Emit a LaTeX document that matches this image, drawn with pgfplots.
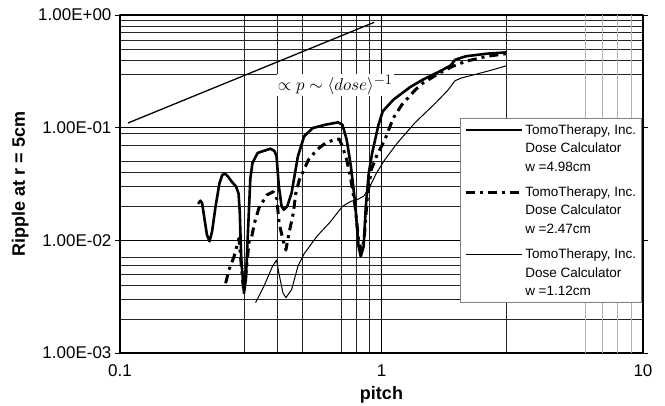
\documentclass[border=0pt]{standalone}
\usepackage{pgfplots}
\pgfplotsset{compat=1.18}
\usepackage[no-math]{fontspec}
\setmainfont{Liberation Sans}
\begin{document}
\begin{tikzpicture}
\path[use as bounding box] (-120pt,-53pt) rectangle (545pt,353pt);
\begin{axis}[
  at={(0pt,0pt)}, anchor=south west,
  scale only axis, width=523pt, height=338pt,
  xmode=log, ymode=log,
  xmin=0.1, xmax=10, ymin=0.001, ymax=1,
  /pgf/number format/assume math mode=true,
  xtick={0.1,1,10}, xticklabels={0.1,1,10},
  ytick={0.001,0.01,0.1,1},
  yticklabels={1.00E-03,1.00E-02,1.00E-01,1.00E+00},
  minor xtick={0.3,0.4,0.5,0.7,0.8,0.9,3},
  minor ytick={0.002,0.003,0.004,0.005,0.006,0.007,0.02,0.03,0.04,0.05,0.07,0.09,0.3,0.4,0.5,0.6,0.7,0.8,0.9},
  extra x ticks={6,7,8,9}, extra x tick labels={},
  extra x tick style={major grid style={gray!60, line width=0.9pt}, major tick length=0pt},
  grid=both,
  major grid style={black, line width=0.6pt},
  minor grid style={black!85, line width=0.6pt},
  tick align=outside,
  major tick length=5pt, minor tick length=0pt,
  xtick style={draw=none},
  tick style={black, line width=0.6pt},
  axis line style={black, line width=1.5pt},
  ticklabel style={font=\fontsize{17}{20}\selectfont},
  xticklabel style={yshift=-3pt},
  xlabel={\textbf{pitch}},
  ylabel={\textbf{Ripple at r = 5cm}},
  label style={font=\fontsize{18}{21}\selectfont},
  xlabel style={at={(axis description cs:0.5,-0.124)}, anchor=center},
  ylabel style={at={(axis description cs:-0.191,0.5)}, anchor=center},
  legend style={at={(0.998,0.694)}, anchor=north east, draw=gray, line width=0.8pt,
    fill=white, font=\fontsize{13.5}{18.5}\selectfont,
    cells={anchor=west, align=left}, row sep=10pt, inner sep=3.5pt},
  legend image code/.code={\draw[#1] (0pt,18.5pt) -- (56pt,18.5pt);},
  line join=round,
]
% reference slope line
\addplot[black, line width=1.3pt, forget plot] coordinates {(0.1073,0.110) (0.938,0.861)};

% w = 4.98 cm
\addplot[black, line width=2.6pt] coordinates {
(0.199,0.0211) (0.203,0.0225) (0.206,0.0215) (0.210,0.0160) (0.215,0.0112)
(0.220,0.0098) (0.225,0.0120) (0.232,0.0200) (0.240,0.0320) (0.246,0.0380)
(0.252,0.0390) (0.258,0.0372) (0.268,0.0330) (0.278,0.0300) (0.284,0.0260)
(0.287,0.0180) (0.291,0.0067) (0.298,0.0034) (0.303,0.0045) (0.310,0.0150)
(0.315,0.0350) (0.321,0.0486) (0.336,0.0596) (0.376,0.0651) (0.390,0.0620)
(0.397,0.0557) (0.405,0.0302) (0.415,0.0200) (0.423,0.0187) (0.436,0.0200)
(0.453,0.0263) (0.479,0.0557) (0.506,0.0838) (0.546,0.0993) (0.611,0.1063)
(0.683,0.1115) (0.709,0.106) (0.736,0.0782) (0.764,0.0454) (0.793,0.0214)
(0.817,0.00885) (0.833,0.0072) (0.855,0.00885) (0.871,0.0200) (0.894,0.0396)
(0.921,0.0596) (0.974,0.106) (1.011,0.1396) (1.11,0.177) (1.29,0.23)
(1.44,0.267) (1.67,0.316) (1.84,0.357) (1.91,0.40) (2.10,0.43)
(2.53,0.454) (3.01,0.466)};
\addlegendentry{TomoTherapy, Inc.\\Dose Calculator\\w =4.98cm}

% w = 2.47 cm
\addplot[black, line width=3pt, dash pattern=on 9pt off 5pt on 3pt off 5pt] coordinates {
(0.2535,0.00416) (0.261,0.00546) (0.273,0.00717) (0.285,0.0104) (0.291,0.0060)
(0.297,0.0036) (0.303,0.0050) (0.312,0.0100) (0.319,0.0108) (0.327,0.0143)
(0.340,0.0194) (0.365,0.0253) (0.385,0.0270) (0.397,0.0245) (0.406,0.0142)
(0.420,0.0101) (0.431,0.0082) (0.443,0.0116) (0.460,0.0174) (0.470,0.0260)
(0.485,0.0344) (0.526,0.052) (0.567,0.0638) (0.611,0.0731) (0.670,0.0794)
(0.690,0.0790) (0.709,0.0683) (0.736,0.052) (0.764,0.0345) (0.793,0.0200)
(0.817,0.0101) (0.839,0.00798) (0.858,0.0101) (0.881,0.0230) (0.914,0.0424)
(0.957,0.0557) (1.03,0.0782) (1.11,0.122) (1.197,0.160) (1.34,0.214)
(1.44,0.249) (1.67,0.306) (1.87,0.350) (2.10,0.388) (2.53,0.430) (3.01,0.454)};
\addlegendentry{TomoTherapy, Inc.\\Dose Calculator\\w =2.47cm}

% w = 1.12 cm
\addplot[black, line width=1pt] coordinates {
(0.330,0.0028) (0.355,0.0039) (0.383,0.00588) (0.397,0.0067) (0.405,0.00513)
(0.420,0.00341) (0.431,0.00310) (0.453,0.00365) (0.479,0.00588) (0.506,0.0076)
(0.567,0.0109) (0.636,0.0145) (0.709,0.0200) (0.764,0.0222) (0.808,0.0230)
(0.855,0.0246) (0.904,0.0302) (0.957,0.0396) (1.03,0.052) (1.15,0.0731)
(1.34,0.110) (1.61,0.1656) (1.80,0.217) (1.91,0.261) (2.02,0.276)
(2.26,0.295) (2.62,0.323) (3.01,0.355)};
\addlegendentry{TomoTherapy, Inc.\\Dose Calculator\\w =1.12cm}

\node[fill=white, inner sep=1pt, font=\fontsize{19}{22}\selectfont]
  at (axis cs:0.665,0.24) {$\propto p\sim\langle dose\rangle^{-1}$};
\end{axis}
\end{tikzpicture}
\end{document}
